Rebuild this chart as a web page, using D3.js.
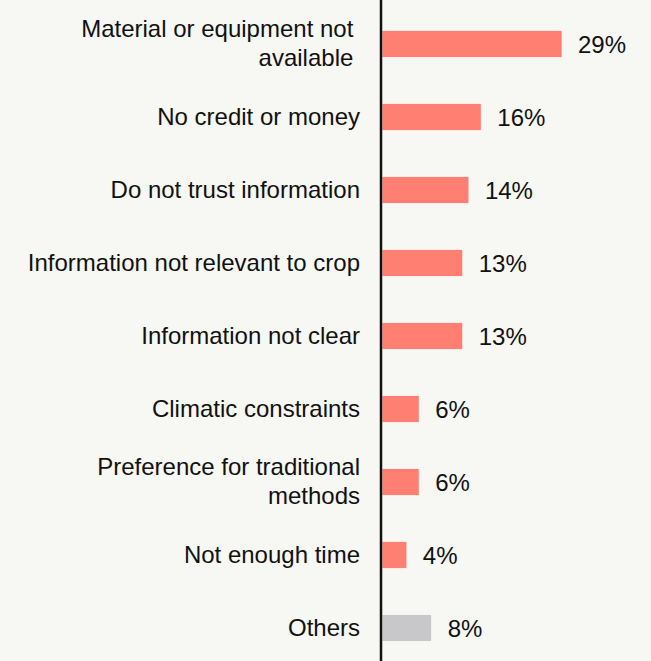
<!DOCTYPE html>
<html>
<head>
<meta charset="utf-8">
<script src="https://cdn.jsdelivr.net/npm/d3@7"></script>
<style>
  html, body { margin: 0; padding: 0; background: #f7f7f3; }
  svg { display: block; }
  text { font-family: "Liberation Sans", Arial, Helvetica, sans-serif; fill: #111; }
</style>
</head>
<body>
<svg id="chart" width="651" height="661"></svg>
<script>
// Reasons given for not using advisory information
const categories = [
  ["Material or equipment not\u00a0", "available\u00a0"],
  ["No credit or money"],
  ["Do not trust information"],
  ["Information not relevant to crop"],
  ["Information not clear"],
  ["Climatic constraints"],
  ["Preference for traditional", "methods"],
  ["Not enough time"],
  ["Others"]
];
const values = [29, 16, 14, 13, 13, 6, 6, 4, 8];
const valueLabels = ["29%", "16%", "14%", "13%", "13%", "6%", "6%", "4%", "8%"];
const isOther = [false, false, false, false, false, false, false, false, true];

const W = 651, H = 661;
const axisX = 381;
const svg = d3.select("#chart");

const idx = d3.range(values.length);
const y = d3.scaleBand().domain(idx).range([7.5, 664.5]).paddingInner(0.63).paddingOuter(0.315);
const x = d3.scaleLinear().domain([0, 29]).range([axisX + 1, axisX + 181]);

const rows = svg.append("g").selectAll("g").data(idx).join("g");

rows.append("rect")
  .attr("x", x(0))
  .attr("y", i => y(i))
  .attr("width", i => x(values[i]) - x(0))
  .attr("height", y.bandwidth())
  .attr("fill", i => isOther[i] ? "#c8c8ca" : "#ff7f73")
  .attr("stroke", "#ffffff")
  .attr("stroke-opacity", 0.7)
  .attr("stroke-width", 1);

rows.append("text")
  .attr("x", i => x(values[i]) + 16)
  .attr("y", i => y(i) + y.bandwidth() / 2)
  .attr("dy", "0.37em")
  .attr("font-size", 24)
  .text(i => valueLabels[i]);

const lineH = 29;
rows.append("text")
  .attr("text-anchor", "end")
  .attr("font-size", 24)
  .attr("y", i => y(i) + y.bandwidth() / 2 - (categories[i].length - 1) * lineH / 2)
  .selectAll("tspan")
  .data(i => categories[i])
  .join("tspan")
  .attr("x", 360)
  .attr("dy", (d, j) => j === 0 ? "0.33em" : lineH)
  .text(d => d);

svg.append("line")
  .attr("x1", axisX).attr("x2", axisX)
  .attr("y1", 0).attr("y2", H)
  .attr("stroke", "#111")
  .attr("stroke-width", 2.5);
</script>
</body>
</html>
